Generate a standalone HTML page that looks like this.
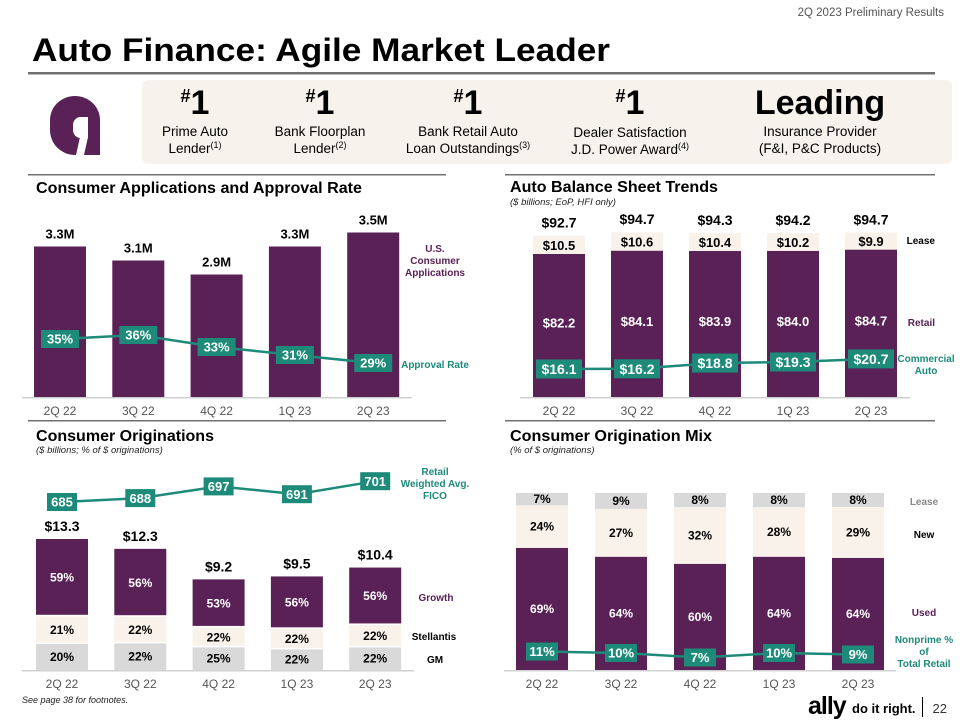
<!DOCTYPE html>
<html><head><meta charset="utf-8"><style>
html,body{margin:0;padding:0;background:#fff;}
svg{display:block;font-family:"Liberation Sans",sans-serif;}
</style></head><body>
<svg id="page" width="960" height="720" viewBox="0 0 960 720">
  <text x="944" y="16" font-size="11.5" fill="#555" text-anchor="end">2Q 2023 Preliminary Results</text>
  <text x="32" y="61" font-size="32" font-weight="bold" fill="#000" textLength="578" lengthAdjust="spacingAndGlyphs">Auto Finance: Agile Market Leader</text>
  <rect x="28" y="72" width="907" height="2.5" fill="#707070"/>
  <rect x="142" y="80" width="810" height="84" rx="6" fill="#f8f2ec"/>
  <g>
    <path d="M100,155 L100,120 A25,24 0 0 0 50,120 L50,130 A25,25 0 0 0 75,155 Z" fill="#5a2157"/>
    <rect x="73" y="117" width="15" height="21" rx="8" fill="#fff"/>
    <rect x="80" y="117" width="8" height="21" fill="#fff"/>
    <polygon points="80,137 88,137 84,155 76,155" fill="#fff"/>
  </g>
  <g font-size="13.5" fill="#000" text-anchor="middle">
    <g>
      <text x="195" y="114" font-size="34" font-weight="bold"><tspan font-size="18" dy="-12">#</tspan><tspan dy="12">1</tspan></text>
      <text x="195" y="136">Prime Auto</text><text x="195" y="153">Lender<tspan font-size="9" dy="-5">(1)</tspan></text>
    </g>
    <g>
      <text x="320" y="114" font-size="34" font-weight="bold"><tspan font-size="18" dy="-12">#</tspan><tspan dy="12">1</tspan></text>
      <text x="320" y="136">Bank Floorplan</text><text x="320" y="153">Lender<tspan font-size="9" dy="-5">(2)</tspan></text>
    </g>
    <g>
      <text x="468" y="114" font-size="34" font-weight="bold"><tspan font-size="18" dy="-12">#</tspan><tspan dy="12">1</tspan></text>
      <text x="468" y="136">Bank Retail Auto</text><text x="468" y="153">Loan Outstandings<tspan font-size="9" dy="-5">(3)</tspan></text>
    </g>
    <g>
      <text x="630" y="114" font-size="34" font-weight="bold"><tspan font-size="18" dy="-12">#</tspan><tspan dy="12">1</tspan></text>
      <text x="630" y="137">Dealer Satisfaction</text><text x="630" y="154">J.D. Power Award<tspan font-size="9" dy="-5">(4)</tspan></text>
    </g>
    <g>
      <text x="820" y="114" font-size="34" font-weight="bold">Leading</text>
      <text x="820" y="136">Insurance Provider</text><text x="820" y="153">(F&amp;I, P&amp;C Products)</text>
    </g>
  </g>
  <rect x="28" y="174" width="418" height="1.5" fill="#707070"/>
  <rect x="505" y="174" width="430" height="1.5" fill="#707070"/>
  <rect x="28" y="420" width="418" height="1.5" fill="#707070"/>
  <rect x="505" y="420" width="430" height="1.5" fill="#707070"/>

  <text x="36" y="193" font-size="16" font-weight="bold" textLength="326" lengthAdjust="spacingAndGlyphs">Consumer Applications and Approval Rate</text>
  <text x="510" y="192" font-size="16" font-weight="bold" textLength="208" lengthAdjust="spacingAndGlyphs">Auto Balance Sheet Trends</text>
  <text x="510" y="205" font-size="9.5" font-style="italic" fill="#222">($ billions; EoP, HFI only)</text>
  <text x="36" y="441" font-size="16" font-weight="bold" textLength="178" lengthAdjust="spacingAndGlyphs">Consumer Originations</text>
  <text x="36" y="453" font-size="9.5" font-style="italic" fill="#222">($ billions; % of $ originations)</text>
  <text x="510" y="441" font-size="16" font-weight="bold" textLength="202" lengthAdjust="spacingAndGlyphs">Consumer Origination Mix</text>
  <text x="510" y="453" font-size="9.5" font-style="italic" fill="#222">(% of $ originations)</text>

  <text x="22" y="703" font-size="9" font-style="italic" fill="#222">See page 38 for footnotes.</text>
  <g>
    <text x="808" y="714" font-size="25" font-weight="bold" fill="#000" letter-spacing="-1">ally</text>
    <text x="852" y="713" font-size="13" font-weight="bold" fill="#000">do it right.</text>
    <rect x="922" y="697" width="1" height="20" fill="#000"/>
    <text x="947" y="713" font-size="13" fill="#333" text-anchor="end">22</text>
  </g>
  <g id="charts"></g>
</svg>
<script>
// ---- data ----
const categories = ['2Q 22','3Q 22','4Q 22','1Q 23','2Q 23'];
const appsValues = [3.3, 3.1, 2.9, 3.3, 3.5];
const appsLabels = ['3.3M','3.1M','2.9M','3.3M','3.5M'];
const approvalRate = [35, 36, 33, 31, 29];
const balTotal = [92.7, 94.7, 94.3, 94.2, 94.7];
const balLease = [10.5, 10.6, 10.4, 10.2, 9.9];
const balRetail = [82.2, 84.1, 83.9, 84.0, 84.7];
const balCommercial = [16.1, 16.2, 18.8, 19.3, 20.7];
const origTotal = [13.3, 12.3, 9.2, 9.5, 10.4];
const origGrowth = [59, 56, 53, 56, 56];
const origStellantis = [21, 22, 22, 22, 22];
const origGM = [20, 22, 25, 22, 22];
const ficoScores = [685, 688, 697, 691, 701];
const mixLease = [7, 9, 8, 8, 8];
const mixNew = [24, 27, 32, 28, 29];
const mixUsed = [69, 64, 60, 64, 64];
const nonprimePct = [11, 10, 7, 10, 9];

const NS = 'http://www.w3.org/2000/svg';
const root = document.getElementById('charts');
const PURPLE = '#5a2157', TEAL = '#1e8a7a', BEIGE = '#f8f2ea', GRAY = '#d9d9d9';
function mk(tag, attrs, parent) {
  const e = document.createElementNS(NS, tag);
  for (const k in attrs) e.setAttribute(k, attrs[k]);
  (parent || root).appendChild(e);
  return e;
}
function txt(x, y, s, size, fill, weight, anchor, parent) {
  const t = mk('text', {x: x, y: y, 'font-size': size, fill: fill, 'font-weight': weight || 'normal', 'text-anchor': anchor || 'middle'}, parent);
  t.textContent = s;
  return t;
}
function fmt(v) { return '$' + v.toFixed(1); }

const x1 = i => 60 + 78.3 * i;
const y1 = v => 397 - (v - 1.15) * 70;
const yAppr = p => 339 - (p - 35) * 4;
const x2 = i => 559 + 78 * i;
const y2 = v => 397 - v * 1.74;
const yComm = v => 369 - (v - 16.1) * 2.2;
const x3 = i => 62 + 78.3 * i;
const y3 = v => 670 - v * 9.85;
const yFico = f => 502 - (f - 685) * 1.3;
const x4 = i => 542 + 79 * i;
const MIXH = 177;
const yNp = p => 653 - (p - 10) * 1.5;
const BW = 52;

function axis(xa, xb, y, cx, name) {
  const l = mk('rect', {x: xa, y: y, width: xb - xa, height: 1.5, fill: '#d0d0d0'});
  
  
  categories.forEach((c, i) => {
    const t = txt(cx(i), y + 18, c, 12, '#555');
    
    
  });
}
function lineWithBoxes(cx, cy, vals, labels, bw, bh, fs, name) {
  const pts = vals.map((v, i) => cx(i) + ',' + cy(v)).join(' ');
  const pl = mk('polyline', {points: pts, fill: 'none', stroke: TEAL, 'stroke-width': 2.5});
  
  
  vals.forEach((v, i) => {
    const b = mk('rect', {x: cx(i) - bw / 2, y: cy(v) - bh / 2, width: bw, height: bh, fill: TEAL});
    
    
    const t = txt(cx(i), cy(v) + fs * 0.36, labels[i], fs, '#fff', 'bold');
    
    
  });
}
function legend(x, y, lines, fill, anchor, name) {
  lines.forEach((s, k) => {
    const t = txt(x, y + k * 12, s, 10, fill, 'bold', anchor || 'middle');
    
    
  });
}

// ---- Chart 1 ----
appsValues.forEach((v, i) => {
  const r = mk('rect', {x: x1(i) - BW / 2, y: y1(v), width: BW, height: 397 - y1(v), fill: PURPLE});
  
  
  const t = txt(x1(i), y1(v) - 8, appsLabels[i], 13, '#000', 'bold');
  
  
});
axis(22, 412, 397, x1, 'applications');
lineWithBoxes(x1, yAppr, approvalRate, approvalRate.map(p => p + '%'), 38, 18, 13, 'approval-rate');
legend(435, 252, ['U.S.', 'Consumer', 'Applications'], PURPLE, 'middle', 'legend-applications');
legend(435, 368, ['Approval Rate'], TEAL, 'middle', 'legend-approval-rate');

// ---- Chart 2 ----
balTotal.forEach((v, i) => {
  const rTop = y2(balRetail[i]);
  const r = mk('rect', {x: x2(i) - BW / 2, y: rTop, width: BW, height: 397 - rTop, fill: PURPLE});
  
  
  const lTop = y2(balRetail[i] + balLease[i]);
  const l = mk('rect', {x: x2(i) - BW / 2, y: lTop, width: BW, height: rTop - lTop, fill: BEIGE});
  
  
  const lt = txt(x2(i), (lTop + rTop) / 2 + 5, fmt(balLease[i]), 13, '#000', 'bold');
  
  
  const rt = txt(x2(i), (rTop + 397) / 2 + 2, fmt(balRetail[i]), 13, '#fff', 'bold');
  
  
  const tt = txt(x2(i), lTop - 8, fmt(v), 14, '#000', 'bold');
  
  
});
axis(520, 910, 397, x2, 'balance');
lineWithBoxes(x2, yComm, balCommercial, balCommercial.map(fmt), 46, 19, 14, 'commercial-auto');
legend(935, 244, ['Lease'], '#000', 'end', 'legend-lease');
legend(935, 326, ['Retail'], PURPLE, 'end', 'legend-retail');
legend(926, 362, ['Commercial', 'Auto'], TEAL, 'middle', 'legend-commercial-auto');

// ---- Chart 3 ----
origTotal.forEach((v, i) => {
  const h = 670 - y3(v);
  const sum = origGrowth[i] + origStellantis[i] + origGM[i];
  const gmH = h * origGM[i] / sum, stH = h * origStellantis[i] / sum;
  const gmTop = 670 - gmH, stTop = gmTop - stH, grTop = y3(v);
  const segs = [[gmTop, gmH, GRAY, '#000', origGM[i], 'gm'], [stTop, stH, BEIGE, '#000', origStellantis[i], 'stellantis'], [grTop, stTop - grTop, PURPLE, '#fff', origGrowth[i], 'growth']];
  segs.forEach(s => {
    const r = mk('rect', {x: x3(i) - BW / 2, y: s[0], width: BW, height: s[1] - (s[5] === 'gm' ? 0 : 1.5), fill: s[2]});
    
    
    const t = txt(x3(i), s[0] + s[1] / 2 + 4, s[4] + '%', 12, s[3], 'bold');
    
    
  });
  const tt = txt(x3(i), grTop - 8, fmt(v), 14, '#000', 'bold');
  
  
});
axis(22, 414, 670, x3, 'originations');
lineWithBoxes(x3, yFico, ficoScores, ficoScores.map(String), 30, 18, 13, 'fico');
legend(435, 475, ['Retail', 'Weighted Avg.', 'FICO'], TEAL, 'middle', 'legend-fico');
legend(436, 601, ['Growth'], PURPLE, 'middle', 'legend-growth');
legend(434, 640, ['Stellantis'], '#000', 'middle', 'legend-stellantis');
legend(435, 663, ['GM'], '#000', 'middle', 'legend-gm');

// ---- Chart 4 ----
mixUsed.forEach((u, i) => {
  const sum = mixUsed[i] + mixNew[i] + mixLease[i];
  const uH = MIXH * u / sum, nH = MIXH * mixNew[i] / sum, lH = MIXH * mixLease[i] / sum;
  const uTop = 670 - uH, nTop = uTop - nH, lTop = nTop - lH;
  const segs = [[uTop, uH, PURPLE, '#fff', u, 'used'], [nTop, nH, BEIGE, '#000', mixNew[i], 'new'], [lTop, lH, GRAY, '#000', mixLease[i], 'lease-mix']];
  segs.forEach(s => {
    const r = mk('rect', {x: x4(i) - BW / 2, y: s[0], width: BW, height: s[1], fill: s[2]});
    
    
    const ty = s[0] + s[1] / 2 + 4;
    const t = txt(x4(i), ty, s[4] + '%', 12, s[3], 'bold');
    
    
  });
});
axis(504, 896, 670, x4, 'mix');
lineWithBoxes(x4, yNp, nonprimePct, nonprimePct.map(p => p + '%'), 32, 18, 13, 'nonprime');
legend(924, 505, ['Lease'], '#888', 'middle', 'legend-mix-lease');
legend(924, 538, ['New'], '#000', 'middle', 'legend-new');
legend(924, 616, ['Used'], PURPLE, 'middle', 'legend-used');
legend(924, 643, ['Nonprime %', 'of', 'Total Retail'], TEAL, 'middle', 'legend-nonprime');
</script>
</body></html>
